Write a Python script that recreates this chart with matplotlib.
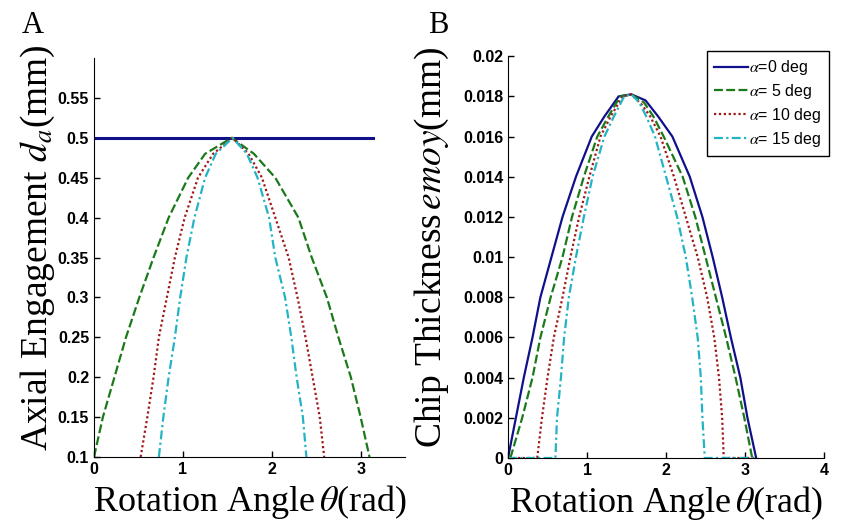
import matplotlib
matplotlib.use("Agg")
import matplotlib.pyplot as plt
import numpy as np

plt.rcParams['mathtext.fontset'] = 'stix'
plt.rcParams['font.family'] = 'Liberation Sans'

# panel A : axial engagement (mm) vs rotation angle (rad)
a_th0 = [0.0, 3.14]
a_d0 = [0.5, 0.5]
a_th5 = [0.0, 0.1, 0.23, 0.36, 0.51, 0.67, 0.84, 1.06, 1.25, 1.55, 1.8, 2.04, 2.3, 2.45, 2.62, 2.75, 2.89, 3.0, 3.1]
a_d5 = [0.10, 0.15, 0.20, 0.25, 0.30, 0.35, 0.40, 0.45, 0.48, 0.50, 0.48, 0.45, 0.40, 0.35, 0.30, 0.25, 0.20, 0.15, 0.10]
a_th10 = [0.525, 0.6, 0.67, 0.73, 0.82, 0.91, 1.02, 1.17, 1.34, 1.56, 1.74, 1.89, 2.04, 2.19, 2.29, 2.38, 2.46, 2.54, 2.59]
a_d10 = [0.10, 0.15, 0.20, 0.25, 0.30, 0.35, 0.40, 0.45, 0.48, 0.50, 0.48, 0.45, 0.40, 0.35, 0.30, 0.25, 0.20, 0.15, 0.10]
a_th15 = [0.73, 0.78, 0.84, 0.91, 0.97, 1.04, 1.13, 1.25, 1.37, 1.56, 1.72, 1.84, 1.97, 2.04, 2.15, 2.22, 2.28, 2.35, 2.39]
a_d15 = [0.10, 0.15, 0.20, 0.25, 0.30, 0.35, 0.40, 0.45, 0.48, 0.50, 0.48, 0.45, 0.40, 0.35, 0.30, 0.25, 0.20, 0.15, 0.10]

# panel B : chip thickness (x1e-3 mm)
b_th0 = [0, 0.1, 0.2, 0.31, 0.41, 0.55, 0.69, 0.86, 1.06, 1.22, 1.4, 1.56, 1.74, 1.9, 2.08, 2.3, 2.46, 2.59, 2.71, 2.82, 2.94, 3.03, 3.14]
b_h0 = [0, 2, 4, 6, 8, 10, 12, 14, 16, 17, 18, 18.1, 17.8, 17, 16, 14, 12, 10, 8, 6, 4, 2, 0]
b_th5 = [0.03, 0.18, 0.31, 0.41, 0.54, 0.69, 0.81, 0.96, 1.13, 1.27, 1.42, 1.56, 1.72, 1.84, 1.97, 2.21, 2.37, 2.5, 2.63, 2.76, 2.88, 2.99, 3.09]
b_h5 = [0, 2, 4, 6, 8, 10, 12, 14, 16, 17, 18, 18.1, 17.7, 17, 16, 14, 12, 10, 8, 6, 4, 2, 0]
b_th10 = [0, 0.37, 0.43, 0.5, 0.58, 0.69, 0.79, 0.9, 1.03, 1.17, 1.3, 1.45, 1.56, 1.69, 1.8, 1.93, 2.1, 2.25, 2.4, 2.52, 2.61, 2.67, 2.71, 2.73, 3.14]
b_h10 = [0, 0, 2, 4, 6, 8, 10, 12, 14, 16, 17, 18, 18.1, 17.6, 17, 16, 14, 12, 10, 8, 6, 4, 2, 0, 0]
b_th15 = [0, 0.6, 0.62, 0.67, 0.71, 0.77, 0.86, 0.96, 1.07, 1.22, 1.34, 1.47, 1.56, 1.66, 1.75, 1.86, 2.0, 2.14, 2.25, 2.33, 2.4, 2.44, 2.46, 2.49, 3.14]
b_h15 = [0, 0, 2, 4, 6, 8, 10, 12, 14, 16, 17, 18, 18.1, 17.7, 17, 16, 14, 12, 10, 8, 6, 4, 2, 0, 0]

legend_labels = [r'$\alpha$=0 deg', r'$\alpha$= 5 deg', r'$\alpha$= 10 deg', r'$\alpha$= 15 deg']
cols = ['#10108a', '#1a7a1a', '#a01818', '#22b4c4']
styles = ['-', (0, (4, 1.5)), (0, (1, 1.2)), (0, (4, 1.5, 1, 1.5))]

fig = plt.figure(figsize=(8.43, 5.28), dpi=100)
axA = fig.add_axes([0.1115, 0.1345, 0.369, 0.7555])
axB = fig.add_axes([0.6026, 0.1326, 0.375, 0.761])

xfont = {'family': 'Liberation Serif', 'size': 26}
yfont = {'family': 'Liberation Serif', 'size': 27}

# A
axA.plot(a_th0, a_d0, color=cols[0], lw=2.2)
axA.plot(a_th5, a_d5, color=cols[1], lw=1.6, ls=styles[1])
axA.plot(a_th10, a_d10, color=cols[2], lw=1.6, ls=styles[2])
axA.plot(a_th15, a_d15, color=cols[3], lw=1.6, ls=styles[3])
axA.set_xlim(0, 3.5)
axA.set_ylim(0.1, 0.6)
axA.set_xticks([0, 1, 2, 3])
axA.set_yticks([0.1, 0.15, 0.2, 0.25, 0.3, 0.35, 0.4, 0.45, 0.5, 0.55])
axA.set_yticklabels(['0.1', '0.15', '0.2', '0.25', '0.3', '0.35', '0.4', '0.45', '0.5', '0.55'])
axA.set_xlabel(r'Rotation Angle$\,\theta$(rad)', fontdict=xfont)
axA.set_ylabel(r'Axial Engagement $d_a$(mm)', fontdict=yfont)
axA.yaxis.set_label_coords(-0.12, 0.525)
axA.xaxis.set_label_coords(0.5, -0.065)

# B
bth = [b_th0, b_th5, b_th10, b_th15]
bh = [b_h0, b_h5, b_h10, b_h15]
for i in range(4):
    axB.plot(bth[i], np.array(bh[i]) / 1000, color=cols[i], lw=1.6, ls=styles[i], label=legend_labels[i])
axB.set_xlim(0, 4)
axB.set_ylim(0, 0.02)
axB.set_xticks([0, 1, 2, 3, 4])
axB.set_yticks(np.arange(0, 0.0201, 0.002))
axB.set_yticklabels(['0', '0.002', '0.004', '0.006', '0.008', '0.01', '0.012', '0.014', '0.016', '0.018', '0.02'])
axB.set_xlabel(r'Rotation Angle$\,\theta$(rad)', fontdict=xfont)
axB.set_ylabel(r'Chip Thickness$\,emoy$(mm)', fontdict=yfont)
axB.yaxis.set_label_coords(-0.18, 0.525)
axB.xaxis.set_label_coords(0.5, -0.065)

leg = axB.legend(loc='upper right', bbox_to_anchor=(837 / 843, 1 - 43 / 528), bbox_transform=fig.transFigure,
                 fontsize=11.5, handlelength=2.1, handletextpad=0.1, labelspacing=0.3,
                 borderpad=0.45, fancybox=False, framealpha=1)
leg.get_frame().set_edgecolor('black')
leg.get_frame().set_linewidth(1.0)

for ax in (axA, axB):
    ax.spines['top'].set_visible(False)
    ax.spines['right'].set_visible(False)
    ax.tick_params(direction='in', length=4, labelsize=11.5, width=1)
    for lab in ax.get_xticklabels() + ax.get_yticklabels():
        lab.set_fontweight('bold')

fig.text(22 / 843, 1 - 33 / 528, 'A', family='Liberation Serif', size=22)
fig.text(428 / 843, 1 - 33 / 528, 'B', family='Liberation Serif', size=22)

fig.savefig('out.png', dpi=100)
